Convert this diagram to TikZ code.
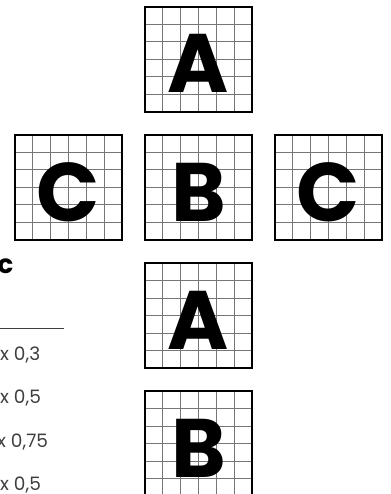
\documentclass[tikz,border=0pt]{standalone}
\usepackage{fontspec}
\setmainfont{Poppins}
\usepackage{xcolor}
\usepackage{tikz}
\usetikzlibrary{positioning, calc}
\definecolor{GridGray}{RGB}{118, 118, 118}
\definecolor{TextGray}{RGB}{62, 62, 62}

\begin{document}
\begin{tikzpicture}[
  x=1pt, y=-1pt,
  node distance=23pt,
  tile/.style={draw=black, line width=1.1pt, minimum width=107pt, minimum height=105pt,
    inner sep=0pt, outer sep=0pt, text height=67pt, text depth=0pt,
    font=\fontsize{83}{83}\selectfont\bfseries,
    path picture={
      \foreach \k in {1,...,5} {
        \draw[GridGray, line width=1pt]
          ($(path picture bounding box.north west)!\k/6!(path picture bounding box.north east)$) --
          ($(path picture bounding box.south west)!\k/6!(path picture bounding box.south east)$);
        \draw[GridGray, line width=1pt]
          ($(path picture bounding box.north west)!\k/6!(path picture bounding box.south west)$) --
          ($(path picture bounding box.north east)!\k/6!(path picture bounding box.south east)$);
      }}},
  ratio/.style={anchor=base west, inner sep=0pt, text=TextGray, font=\fontsize{18.5}{18.5}\selectfont}
]
\useasboundingbox (0,0) rectangle (390,494);

% tiles
\node[tile] (topA) at (198.5,59.5) {A};
\node[tile, below=of topA] (midB) {B};
\node[tile, left=of midB] (leftC) {C};
\node[tile, right=of midB] (rightC) {C};
\node[tile, below=of midB] (lowA) {A};
\node[tile, below=of lowA] (lowB) {B};

% side legend
\node[anchor=east, inner sep=0pt, font=\fontsize{26}{26}\selectfont\bfseries] (head) at (13.5,266) {c};
\coordinate (ruleL) at (0,328);
\coordinate (ruleR) at (64,328);
\draw[TextGray, line width=0.8pt] (ruleL) -- (ruleR);
\node[ratio] (r1) at (0,360) {x 0,3};
\node[ratio] (r2) at (0,403) {x 0,5};
\node[ratio] (r3) at (-3,447) {x 0,75};
\node[ratio] (r4) at (0,490) {x 0,5};
\end{tikzpicture}
\end{document}
